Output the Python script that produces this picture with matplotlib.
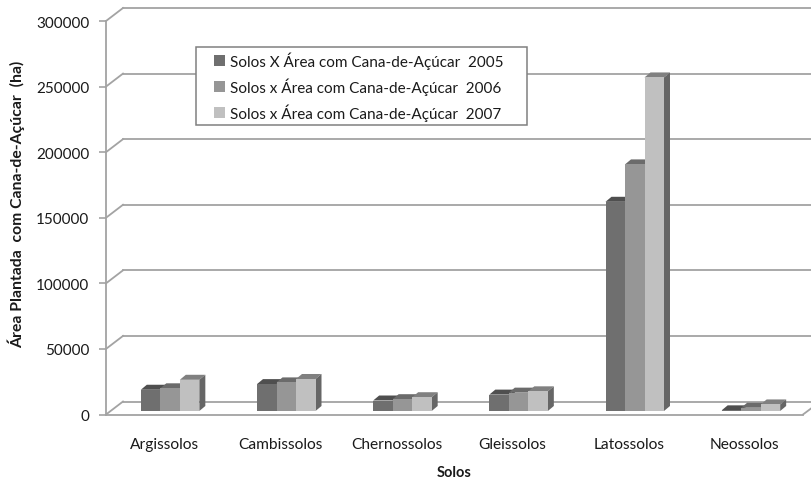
import matplotlib
matplotlib.use("Agg")
import matplotlib.pyplot as plt
from matplotlib.patches import Patch, Rectangle

plt.rcParams['font.family'] = ['Lato', 'DejaVu Sans']

# Data
solos = ["Argissolos", "Cambissolos", "Chernossolos", "Gleissolos", "Latossolos", "Neossolos"]
area_2005 = [16200, 20500, 8000, 12500, 159500, 500]
area_2006 = [17300, 21800, 9000, 14000, 188000, 2500]
area_2007 = [23800, 24400, 10500, 15000, 254300, 5000]
yticks = [0, 50000, 100000, 150000, 200000, 250000, 300000]
legend_labels = ["Solos X Área com Cana-de-Açúcar  2005",
                 "Solos x Área com Cana-de-Açúcar  2006",
                 "Solos x Área com Cana-de-Açúcar  2007"]

front_colors = ["#6f6f6f", "#969696", "#c0c0c0"]
top_colors = ["#4f4f4f", "#6b6b6b", "#808080"]
side_colors = ["#4f4f4f", "#5c5c5c", "#666666"]
line_color = "#a3a3a3"
text_color = "#1a1a1a"

W, H = 811, 481
fig = plt.figure(figsize=(W / 100, H / 100), dpi=100)
ax = fig.add_axes([106 / W, (H - 415.5) / H, 697 / W, 393.5 / H])
ax.set_xlim(-0.5, 5.5)
ax.set_ylim(0, 300000)

# pixel sizes converted to data units
px_x = 6 / 697
px_y = 300000 / 393.5
wall_dx, wall_dy = 17 * px_x, 13 * px_y
base_dx, base_dy = 6 * px_x, 3.5 * px_y
depth_dx, depth_dy = 6 * px_x, 5 * px_y
bar_w = 19.5 * px_x

# Back wall gridlines, side wall diagonals and floor
right_edge = 5.5 + 8 * px_x
for t in yticks:
    ax.plot([-0.5 + wall_dx, right_edge], [t + wall_dy, t + wall_dy], color=line_color,
            lw=1.3, clip_on=False, zorder=1)
    ax.plot([-0.5, -0.5 + wall_dx], [t, t + wall_dy], color=line_color, lw=1.3,
            clip_on=False, zorder=1)
ax.plot([5.5, 5.5 + 8 * px_x], [0, 6 * px_y], color=line_color, lw=1.3, clip_on=False, zorder=1)

# Bars drawn left to right, each with front, top and side faces
series = [area_2005, area_2006, area_2007]
for i in range(len(solos)):
    for j, values in enumerate(series):
        v = values[i]
        x0 = i + base_dx + (j - 1.5) * bar_w
        x1 = x0 + bar_w
        y0 = base_dy
        y1 = v + base_dy
        z = 3 + i + j * 0.1
        ax.bar(x0, v, bar_w, bottom=y0, align='edge', color=front_colors[j], zorder=z + 0.02)
        ax.fill([x0, x0 + depth_dx, x1 + depth_dx, x1], [y1, y1 + depth_dy, y1 + depth_dy, y1],
                color=top_colors[j], lw=0, zorder=z)
        ax.fill([x1, x1 + depth_dx, x1 + depth_dx, x1], [y0, y0 + depth_dy, y1 + depth_dy, y1],
                color=side_colors[j], lw=0, zorder=z + 0.01)

# Axes
for name in ["top", "right"]:
    ax.spines[name].set_visible(False)
for name in ["left", "bottom"]:
    ax.spines[name].set_color(line_color)
    ax.spines[name].set_linewidth(1.3)
ax.set_yticks(yticks)
ax.set_yticklabels([str(t) for t in yticks], fontsize=11, color=text_color)
ax.tick_params(axis='y', length=5, width=1.2, color=line_color, pad=7)
ax.set_xticks(range(len(solos)))
ax.set_xticklabels(solos, fontsize=11.2, color=text_color)
ax.tick_params(axis='x', length=0, pad=16)
ax.set_xlabel("Solos", fontsize=10.5, fontweight='bold', color=text_color, labelpad=10)
fig.text(16 / W, 1 - 204 / H, "Área Plantada  com Cana-de-Açúcar  (ha)", rotation=90,
         fontsize=11.3, fontweight='bold', color=text_color, ha='center', va='center')

# Legend box
fig.add_artist(Rectangle((196 / W, 1 - 126 / H), 331 / W, 78 / H, transform=fig.transFigure,
                         facecolor='white', edgecolor="#808080", lw=1.1, zorder=19))
handles = [Patch(facecolor=c, edgecolor='none') for c in front_colors]
leg = fig.legend(handles, legend_labels, loc='upper left', frameon=False,
                 bbox_to_anchor=(214 / W, 1 - 52 / H), borderaxespad=0, borderpad=0,
                 fontsize=11, handlelength=0.7, handleheight=0.7, handletextpad=0.35,
                 labelspacing=0.57, labelcolor=text_color)
leg.set_zorder(20)

plt.savefig("out.png", dpi=100)
